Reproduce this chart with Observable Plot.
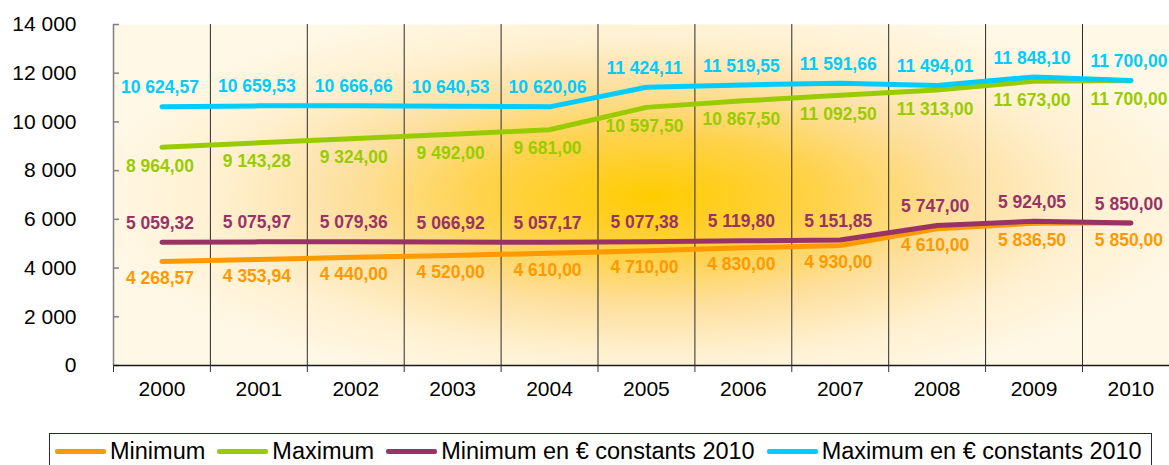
<!DOCTYPE html>
<html><head><meta charset="utf-8">
<script src="https://cdn.jsdelivr.net/npm/d3@7"></script>
<script src="https://cdn.jsdelivr.net/npm/@observablehq/plot@0.6"></script>
<style>
body{margin:0;background:#fff;width:1169px;height:465px;overflow:hidden;position:relative;font-family:"Liberation Sans",Arial,sans-serif;}
#chart{position:absolute;left:0;top:0;}
#legend{position:absolute;left:49px;top:433px;width:1103px;height:40px;border:1px solid #1f1f86;box-sizing:border-box;display:flex;align-items:flex-start;padding-left:5px;padding-top:4px;background:#fff;}
.item{display:flex;align-items:flex-start;margin-right:12px;font-size:23.5px;line-height:26px;color:#000;white-space:nowrap;}
.sw{width:51px;height:4.5px;border-radius:2px;margin-top:11px;margin-right:4px;}
</style></head>
<body>
<div id="chart"></div>
<div id="legend"></div>
<script>
const years = [2000, 2001, 2002, 2003, 2004, 2005, 2006, 2007, 2008, 2009, 2010];
const minimum = [4268.57, 4353.94, 4440.00, 4520.00, 4610.00, 4710.00, 4830.00, 4930.00, 5610.00, 5836.50, 5850.00];
const minimumLabels = ["4 268,57", "4 353,94", "4 440,00", "4 520,00", "4 610,00", "4 710,00", "4 830,00", "4 930,00", "4 610,00", "5 836,50", "5 850,00"];
const maximum = [8964.00, 9143.28, 9324.00, 9492.00, 9681.00, 10597.50, 10867.50, 11092.50, 11313.00, 11673.00, 11700.00];
const minConst = [5059.32, 5075.97, 5079.36, 5066.92, 5057.17, 5077.38, 5119.80, 5151.85, 5747.00, 5924.05, 5850.00];
const maxConst = [10624.57, 10659.53, 10666.66, 10640.53, 10620.06, 11424.11, 11519.55, 11591.66, 11494.01, 11848.10, 11700.00];
const seriesNames = ["Minimum", "Maximum", "Minimum en € constants 2010", "Maximum en € constants 2010"];
const seriesColors = ["#ff9900", "#99cc00", "#993366", "#00ccff"];
const yTicks = [0, 2000, 4000, 6000, 8000, 10000, 12000, 14000];

const fr = d3.formatLocale({decimal: ",", thousands: " ", grouping: [3], currency: ["", " €"]});
const fmt2 = fr.format(",.2f");
const fmt0 = fr.format(",.0f");

const seriesValues = [minimum, maximum, minConst, maxConst];
const data = [];
seriesValues.forEach((vals, s) => vals.forEach((v, i) => data.push({
  year: years[i], value: v, series: seriesNames[s],
  label: s === 0 ? minimumLabels[i] : fmt2(v)
})));
const boundaries = years.map(y => y - 0.5);
const labelDy = [17, 19, -19, -19];
const font = "'Liberation Sans', Arial, sans-serif";

const plot = Plot.plot({
  width: 1169, height: 420,
  marginLeft: 113, marginRight: 0, marginTop: 24, marginBottom: 55,
  style: {fontFamily: font, background: "transparent", overflow: "visible"},
  x: {type: "linear", domain: [1999.5, 2010.398], axis: null},
  y: {domain: [0, 14000], axis: null},
  color: {domain: seriesNames, range: seriesColors},
  marks: [
    Plot.frame({fill: "url(#bg)", stroke: "none"}),
    Plot.ruleX(boundaries.slice(1), {stroke: "#2b2b2b", strokeWidth: 1}),
    Plot.ruleX([boundaries[0]], {stroke: "#808080", strokeWidth: 1.5}),
    Plot.ruleY(yTicks, {x1: 1999.5, x2: 1999.5, insetRight: -6, stroke: "#808080", strokeWidth: 1.5}),
    Plot.ruleY([0], {stroke: "#1a1a1a", strokeWidth: 1.5}),
    Plot.axisX({ticks: boundaries, tickSize: 7, tickFormat: () => "", label: null, stroke: "#333"}),
    Plot.text(years, {x: d => d, frameAnchor: "bottom", dy: 30, fontSize: 21, fill: "#000", text: d => String(d)}),
    Plot.axisY({ticks: yTicks, tickSize: 0, tickPadding: 37, tickFormat: fmt0, fontSize: 21, label: null, fill: "#000"}),
    Plot.line(data, {x: "year", y: "value", z: "series", stroke: "series", strokeWidth: 5, curve: "linear", strokeLinecap: "round", strokeLinejoin: "round"}),
    ...seriesNames.map((name, s) => Plot.text(data.filter(d => d.series === name), {
      x: "year", y: "value", text: "label", dy: labelDy[s], dx: -2,
      fill: seriesColors[s], fontSize: 17.5, fontWeight: "bold"
    }))
  ]
});

const svg = d3.select(plot);
const defs = svg.insert("defs", ":first-child");
const g = defs.append("radialGradient").attr("id", "bg").attr("gradientUnits", "userSpaceOnUse")
  .attr("cx", 652).attr("cy", 196).attr("r", 560)
  .attr("gradientTransform", "translate(652,196) scale(1,0.36) translate(-652,-196)");
[[0, "#ffcc00"], [0.3, "#ffd24a"], [0.55, "#fde0a0"], [0.78, "#fff0d0"], [1, "#fff8e6"]]
  .forEach(([o, c]) => g.append("stop").attr("offset", o).attr("stop-color", c));
document.getElementById("chart").appendChild(plot);

const legend = d3.select("#legend");
seriesNames.forEach((name, i) => {
  const it = legend.append("div").attr("class", "item");
  it.append("div").attr("class", "sw").style("background", seriesColors[i]);
  it.append("span").text(name);
});
</script>
</body></html>
